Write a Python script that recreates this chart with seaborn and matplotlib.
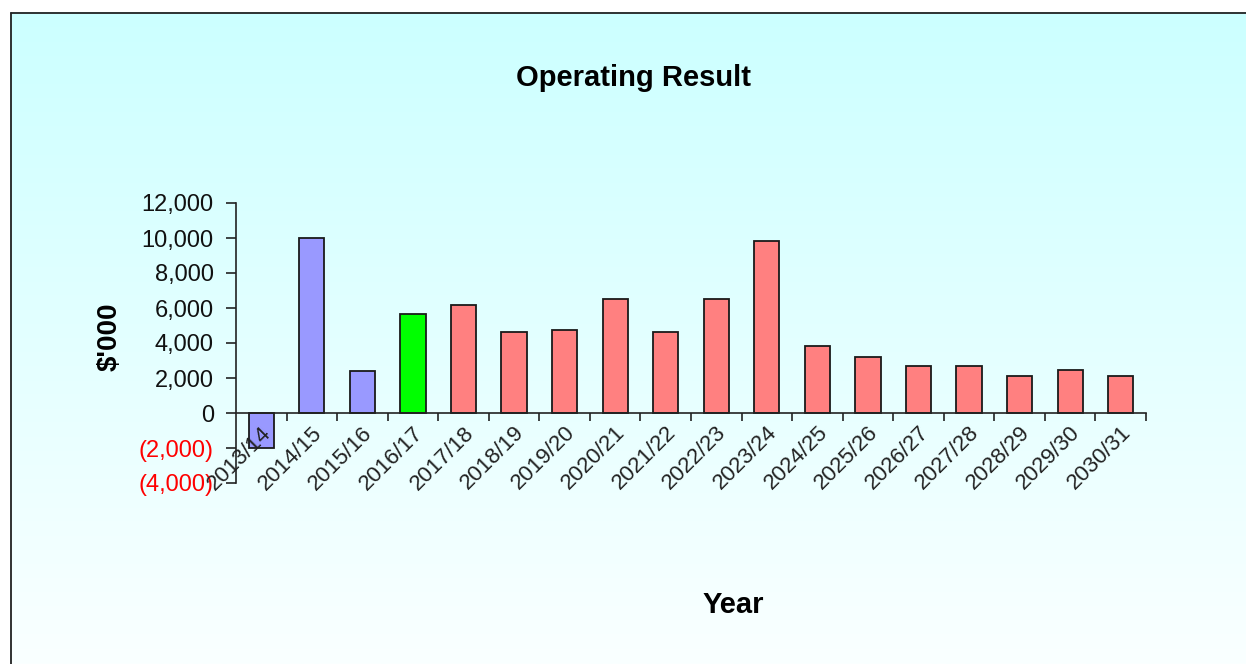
import numpy as np
import pandas as pd
import matplotlib
matplotlib.use("Agg")
import matplotlib.pyplot as plt
import matplotlib.transforms as mtransforms
from matplotlib.lines import Line2D
from matplotlib.ticker import FuncFormatter, FixedLocator, FixedFormatter
import seaborn as sns

years = ["2013/14", "2014/15", "2015/16", "2016/17", "2017/18", "2018/19",
         "2019/20", "2020/21", "2021/22", "2022/23", "2023/24", "2024/25",
         "2025/26", "2026/27", "2027/28", "2028/29", "2029/30", "2030/31"]
values = [-2000, 10000, 2380, 5630, 6160, 4620, 4720, 6520, 4620, 6520,
          9830, 3820, 3210, 2660, 2660, 2120, 2460, 2120]
bar_colors = ["#9999FF"] * 3 + ["#00FF00"] + ["#FF8080"] * 14
y_ticks = [-4000, -2000, 0, 2000, 4000, 6000, 8000, 10000, 12000]

sns.set_theme(style="white")
plt.rcParams["font.family"] = ["Liberation Sans", "DejaVu Sans"]

W, H = 1246, 664
fig = plt.figure(figsize=(W / 100, H / 100), dpi=100)
fig.patch.set_facecolor("white")

# gradient chart-area background
bg = fig.add_axes([10 / W, 0, 1 - 10 / W, (H - 12) / H], zorder=-5)
grad = np.linspace(0, 1, 256).reshape(-1, 1)
top = np.array([204, 255, 255]) / 255
bot = np.array([250, 255, 255]) / 255
img = top[None, None, :] * (1 - grad[:, :, None]) + bot[None, None, :] * grad[:, :, None]
bg.imshow(img, aspect="auto", extent=[0, 1, 0, 1])
bg.set_axis_off()
fig.add_artist(Line2D([10.5 / W, 10.5 / W], [0, (H - 12.5) / H], color="#222222", lw=1.3, transform=fig.transFigure))
fig.add_artist(Line2D([10.5 / W, 1], [(H - 12.5) / H, (H - 12.5) / H], color="#222222", lw=1.3, transform=fig.transFigure))

ax = fig.add_axes([236 / W, (H - 483) / H, (1146 - 236) / W, (483 - 203) / H])
ax.set_facecolor("none")

df = pd.DataFrame({"Year": years, "Value": values})
sns.barplot(data=df, x="Year", y="Value", hue="Year", palette=bar_colors,
            width=0.5, edgecolor="#1a1a1a", linewidth=1.3, legend=False,
            saturation=1, ax=ax, zorder=2)

ax.set_xlim(-0.5, len(years) - 0.5)
ax.set_ylim(-4000, 12000)
ax.set_yticks(y_ticks)

def fmt(v, pos):
    if v < 0:
        return "({:,.0f})".format(-v)
    return "{:,.0f}".format(v)

ax.yaxis.set_major_formatter(FuncFormatter(fmt))

ax.tick_params(axis="y", direction="out", length=7, width=1.2, color="#222222",
               labelsize=17, pad=9, left=True)
ax.xaxis.set_major_locator(FixedLocator(list(range(len(years)))))
ax.xaxis.set_major_formatter(FixedFormatter(years))
ax.tick_params(axis="x", which="major", length=0, pad=12, bottom=True,
               labelsize=16, labelcolor="#222222", labelrotation=45)
ax.xaxis.set_minor_locator(FixedLocator(list(np.arange(0.5, len(years), 1.0))))
ax.tick_params(axis="x", which="minor", direction="out", length=6, width=1.2,
               color="#222222", bottom=True)

for s in ["top", "right"]:
    ax.spines[s].set_visible(False)
ax.spines["bottom"].set_position(("data", 0))
for s in ["left", "bottom"]:
    ax.spines[s].set_color("#222222")
    ax.spines[s].set_linewidth(1.2)
ax.spines["bottom"].set_zorder(4)
ax.xaxis.set_zorder(5)

ax.set_xlabel("")
ax.set_ylabel("")
fig.text(634 / W, 1 - 78 / H, "Operating Result", ha="center", va="center",
         fontsize=21, fontweight="bold", color="black")
fig.text(110 / W, 1 - 337 / H, "$'000", ha="center", va="center", rotation=90,
         fontsize=20, fontweight="bold", color="black")
fig.text(733 / W, 1 - 605 / H, "Year", ha="center", va="center",
         fontsize=21, fontweight="bold", color="black")

fig.canvas.draw()
offset = mtransforms.ScaledTranslation(7 / 100, 0, fig.dpi_scale_trans)
for tick in ax.xaxis.get_major_ticks():
    lab = tick.label1
    lab.set_rotation(45)
    lab.set_ha("right")
    lab.set_va("center")
    lab.set_rotation_mode("anchor")
    lab.set_fontsize(16)
    lab.set_transform(lab.get_transform() + offset)
for tick, v in zip(ax.yaxis.get_major_ticks(), y_ticks):
    tick.label1.set_color("#FF0000" if v < 0 else "#111111")

fig.savefig("out.png", dpi=100)
